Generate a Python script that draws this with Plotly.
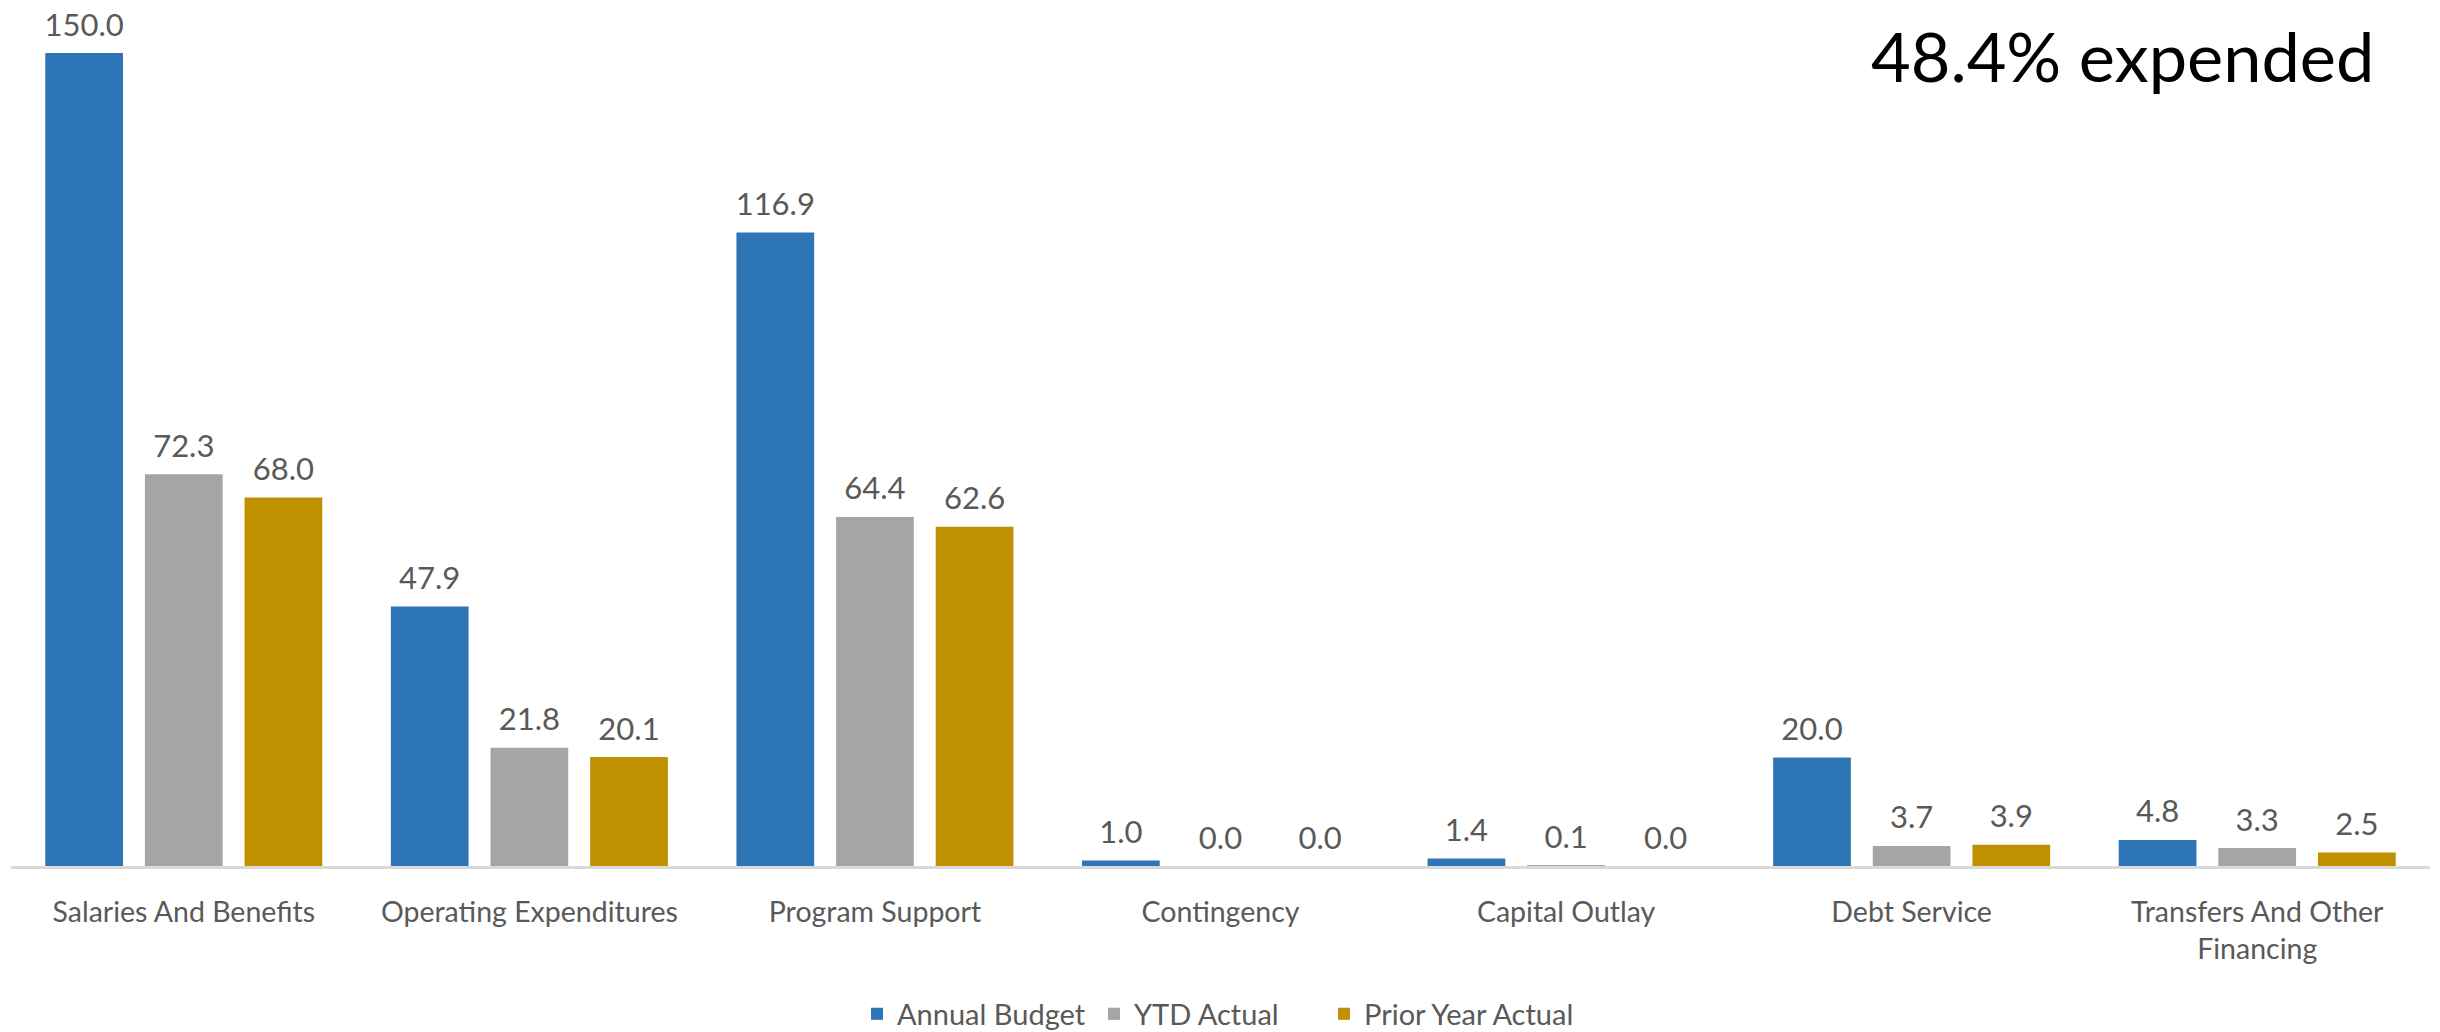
import plotly.graph_objects as go

categories = ["Salaries And Benefits", "Operating Expenditures", "Program Support",
              "Contingency", "Capital Outlay", "Debt Service",
              "Transfers And Other<br>Financing"]
annual_budget = [150.0, 47.9, 116.9, 1.0, 1.4, 20.0, 4.8]
ytd_actual = [72.3, 21.8, 64.4, 0.0, 0.1, 3.7, 3.3]
prior_year_actual = [68.0, 20.1, 62.6, 0.0, 0.0, 3.9, 2.5]
series_names = ["Annual Budget", "YTD Actual", "Prior Year Actual"]
series_values = [annual_budget, ytd_actual, prior_year_actual]
colors = ["#2E75B6", "#A5A5A5", "#BF9000"]
annotation_text = "48.4% expended"

FONT = "Lato"
W, H = 2440, 1032
mt, mb, ml, mr = 20, 166, 11, 10
plot_h = H - mt - mb
plot_w = W - ml - mr
legend_ids = ["legend", "legend2", "legend3"]
legend_x = [857, 1094, 1324]

fig = go.Figure()
for name, vals, col, lid in zip(series_names, series_values, colors, legend_ids):
    fig.add_trace(go.Bar(
        x=categories, y=vals, name=name, marker=dict(color=col, line=dict(width=0)),
        offsetgroup=name, legend=lid,
    ))
for name, vals in zip(series_names, series_values):
    fig.add_trace(go.Scatter(
        x=categories, y=vals, mode="markers+text", offsetgroup=name,
        text=[f"{v:.1f}" for v in vals], textposition="top center",
        marker=dict(size=14, color="rgba(0,0,0,0)"),
        textfont=dict(family=FONT, size=31, color="#595959"),
        showlegend=False, hoverinfo="skip", cliponaxis=False,
    ))

legend_common = dict(orientation="h", xanchor="left", xref="container",
                     y=(H - 1014) / H, yref="container", yanchor="middle",
                     font=dict(family=FONT, size=29, color="#595959"))
fig.update_layout(
    width=W, height=H,
    margin=dict(l=ml, r=mr, t=mt, b=mb, pad=0, autoexpand=False),
    barmode="group", scattermode="group",
    bargap=0.135, bargroupgap=0.22, scattergap=0.135,
    plot_bgcolor="white", paper_bgcolor="white",
    font=dict(family=FONT, size=28, color="#595959"),
    showlegend=True,
    legend=dict(x=legend_x[0] / W, **legend_common),
    legend2=dict(x=legend_x[1] / W, **legend_common),
    legend3=dict(x=legend_x[2] / W, **legend_common),
    xaxis=dict(showgrid=False, showline=True, linecolor="#D9D9D9", linewidth=3,
               automargin=False,
               ticks="", ticklabelstandoff=19, tickfont=dict(family=FONT, size=28.5, color="#595959")),
    yaxis=dict(range=[0, 156.1], showgrid=False, showticklabels=False, zeroline=False,
               showline=False, ticks="", automargin=False),
    annotations=[dict(text=annotation_text, xref="paper", yref="paper",
                      x=(2376 - ml) / plot_w, y=(H - mb - 56) / plot_h,
                      xanchor="right", yanchor="middle", showarrow=False,
                      font=dict(family=FONT, size=68.5, color="black"))],
)
fig.write_html("out.html", config={"displayModeBar": False},
               post_script="document.body.style.margin='0';")
